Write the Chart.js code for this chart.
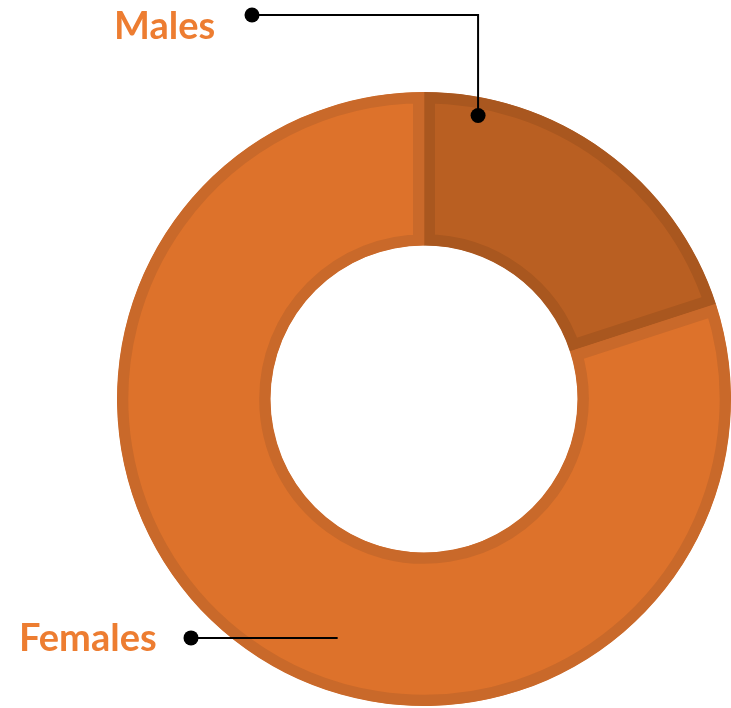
<!DOCTYPE html>
<html>
<head>
<meta charset="utf-8">
<title>Males / Females</title>
<script src="https://cdn.jsdelivr.net/npm/chart.js@4"></script>
<style>
  html, body { margin: 0; padding: 0; background: #fff; }
  #wrap { width: 731px; height: 708px; }
</style>
</head>
<body>
<div id="wrap"><canvas id="donut-chart" width="731" height="708"></canvas></div>
<script>
// data
const labels = ['Males', 'Females'];
const values = [20, 80];

const fillColors = ['#B95F22', '#DD722B'];
const edgeColors = ['#A9571F', '#C9692A'];

// draws the callout labels with their leader lines
const calloutPlugin = {
  id: 'callouts',
  afterDatasetsDraw(chart) {
    const ctx = chart.ctx;
    const arcs = chart.getDatasetMeta(0).data;

    function pointOn(arc, along, depth) {
      const a = arc.startAngle + (arc.endAngle - arc.startAngle) * along;
      const r = arc.innerRadius + (arc.outerRadius - arc.innerRadius) * depth;
      return { x: arc.x + Math.cos(a) * r, y: arc.y + Math.sin(a) * r };
    }

    function dot(x, y) {
      ctx.beginPath();
      ctx.arc(x, y, 7.5, 0, Math.PI * 2);
      ctx.fill();
    }

    ctx.save();
    ctx.strokeStyle = '#000';
    ctx.fillStyle = '#000';
    ctx.lineWidth = 2;

    // Males: elbow line from top
    const m = pointOn(arcs[0], 0.15, 0.88);
    const topY = 15;
    ctx.beginPath();
    ctx.moveTo(252, topY);
    ctx.lineTo(m.x, topY);
    ctx.lineTo(m.x, m.y);
    ctx.stroke();
    dot(252, topY);
    dot(m.x, m.y);

    // Females: straight line
    const f = pointOn(arcs[1], 0.444, 0.655);
    ctx.beginPath();
    ctx.moveTo(191, f.y);
    ctx.lineTo(f.x, f.y);
    ctx.stroke();
    dot(191, f.y);

    ctx.fillStyle = '#ED7D31';
    ctx.font = 'bold 38px Lato';
    ctx.textBaseline = 'alphabetic';
    ctx.textAlign = 'left';
    ctx.fillText(labels[0], 114, 39);
    ctx.fillText(labels[1], 19, 651);
    ctx.restore();
  }
};

new Chart(document.getElementById('donut-chart'), {
  type: 'doughnut',
  data: {
    labels,
    datasets: [{
      data: values,
      backgroundColor: fillColors,
      borderColor: edgeColors,
      borderWidth: 11,
      borderAlign: 'inner',
      hoverOffset: 0,
      offset: 0
    }]
  },
  options: {
    responsive: false,
    animation: false,
    cutout: '50%',
    layout: {
      padding: { left: 117, right: 0, top: 92, bottom: 2 }
    },
    plugins: {
      legend: { display: false },
      tooltip: { enabled: false }
    }
  },
  plugins: [calloutPlugin]
});
</script>
</body>
</html>
